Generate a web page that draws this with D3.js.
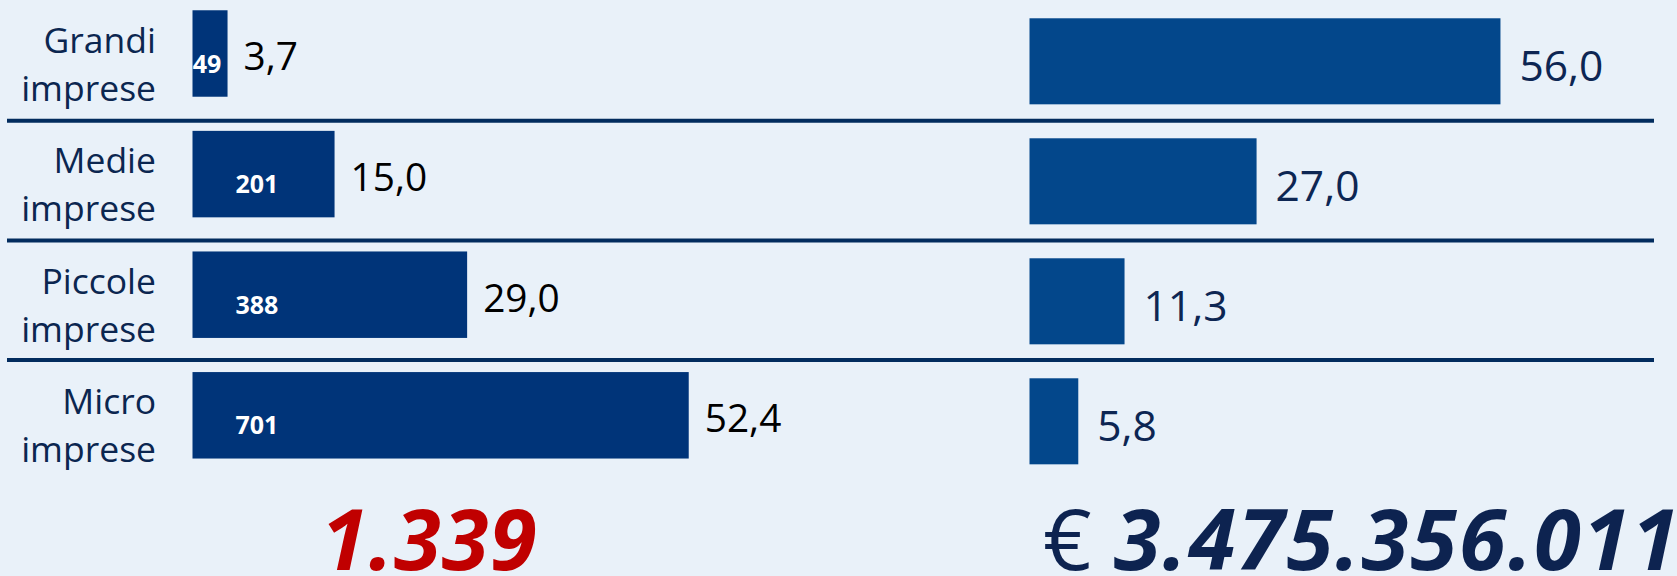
<!DOCTYPE html>
<html>
<head>
<meta charset="utf-8">
<script src="https://cdn.jsdelivr.net/npm/d3@7"></script>
<style>
  html, body { margin: 0; padding: 0; background: #e9f1f9; }
  svg { display: block; font-family: 'Open Sans', sans-serif; }
</style>
</head>
<body>
<div id="container"></div>
<script>
// data
const categories = ['Grandi imprese', 'Medie imprese', 'Piccole imprese', 'Micro imprese'];
const numImprese = [49, 201, 388, 701];
const quotaImprese = [3.7, 15.0, 29.0, 52.4];
const quotaImporto = [56.0, 27.0, 11.3, 5.8];
const totaleImprese = 1339;
const totaleImporto = 3475356011;

const width = 1677; const height = 576;
const it = d3.formatLocale({decimal: ',', thousands: '.', grouping: [3], currency: ['€ ', '']});
const fmtPct = it.format('.1f');
const fmtInt = it.format(',d');

const svg = d3.select('#container').append('svg')
    .attr('width', width)
    .attr('height', height);

svg.append('rect').attr('width', width).attr('height', height).attr('fill', '#e9f1f9');

// scales
const xL = d3.scaleLinear().domain([0, 60]).range([192.5, 760.7]);
const xR = d3.scaleLinear().domain([0, 60]).range([1029.5, 1534.1]);
const yL = d3.scaleBand().domain(categories).range([-6.8, 475.6]).paddingInner(0.283).paddingOuter(0.1415);
const yR = d3.scaleBand().domain(categories).range([1.3, 481.3]).paddingInner(0.283).paddingOuter(0.1415);

const rows = categories.map((c, i) => ({
  cat: c, n: numImprese[i], qi: quotaImprese[i], qa: quotaImporto[i],
}));

// separators
svg.append('g').selectAll('line')
    .data(categories.slice(1))
    .join('line')
    .attr('x1', 7).attr('x2', 1654)
    .attr('y1', (d, i) => yL(d) - 10 - i)
    .attr('y2', (d, i) => yL(d) - 10 - i)
    .attr('stroke', '#022c5e')
    .attr('stroke-width', 4);

// category labels
const lab = svg.append('g').attr('fill', '#0b2650').attr('font-size', 35.5).attr('text-anchor', 'end');
lab.selectAll('text')
    .data(rows)
    .join('text')
    .attr('x', 156)
    .attr('y', (d) => yL(d.cat) + yL.bandwidth() / 2 - 1)
    .each(function(d) {
      const parts = d.cat.split(' ');
      const t = d3.select(this);
      t.append('tspan').text(parts[0]);
      t.append('tspan').attr('x', 156).attr('dy', 48).text(parts[1]);
    });

// left bars
const gl = svg.append('g');
gl.selectAll('rect')
    .data(rows)
    .join('rect')
    .attr('x', xL(0))
    .attr('y', (d) => yL(d.cat))
    .attr('width', (d) => xL(d.qi) - xL(0))
    .attr('height', yL.bandwidth())
    .attr('fill', '#003479');

gl.selectAll('text.n')
    .data(rows)
    .join('text')
    .attr('class', 'n')
    .attr('x', (d) => (xL(d.qi) - xL(0) > 60 ? xL(0) + 43 : (xL(0) + xL(d.qi)) / 2 - 3))
    .attr('y', (d) => yL(d.cat) + yL.bandwidth() / 2 + 10)
    .attr('dy', '0.36em')
    .attr('text-anchor', (d) => (xL(d.qi) - xL(0) > 60 ? 'start' : 'middle'))
    .attr('fill', '#fff')
    .attr('font-weight', 'bold')
    .attr('font-size', 25)
    .text((d) => fmtInt(d.n));

gl.selectAll('text.v')
    .data(rows)
    .join('text')
    .attr('class', 'v')
    .attr('x', (d) => xL(d.qi) + 16)
    .attr('y', (d) => yL(d.cat) + yL.bandwidth() / 2 + 3)
    .attr('dy', '0.36em')
    .attr('fill', '#000')
    .attr('font-size', 38.8)
    .text((d) => fmtPct(d.qi));

// right bars
const gr = svg.append('g');
gr.selectAll('rect')
    .data(rows)
    .join('rect')
    .attr('x', xR(0))
    .attr('y', (d) => yR(d.cat))
    .attr('width', (d) => xR(d.qa) - xR(0))
    .attr('height', yR.bandwidth())
    .attr('fill', '#03478b');

gr.selectAll('text')
    .data(rows)
    .join('text')
    .attr('x', (d) => xR(d.qa) + 19)
    .attr('y', (d) => yR(d.cat) + yR.bandwidth() / 2 + 4)
    .attr('dy', '0.36em')
    .attr('fill', '#0d2653')
    .attr('font-size', 42.5)
    .text((d) => fmtPct(d.qa));

// totals
svg.append('text')
    .attr('x', 321).attr('y', 570)
    .attr('fill', '#c00000')
    .attr('font-size', 85)
    .attr('font-weight', 'bold')
    .attr('font-style', 'italic')
    .attr('letter-spacing', 1)
    .text(fmtInt(totaleImprese));

const tot = svg.append('text')
    .attr('x', 1043).attr('y', 570)
    .attr('fill', '#0d2350')
    .attr('font-size', 85);
tot.append('tspan').text('€ ');
tot.append('tspan')
    .attr('font-weight', 'bold')
    .attr('font-style', 'italic')
    .attr('letter-spacing', 2)
    .text(fmtInt(totaleImporto));
</script>
</body>
</html>
